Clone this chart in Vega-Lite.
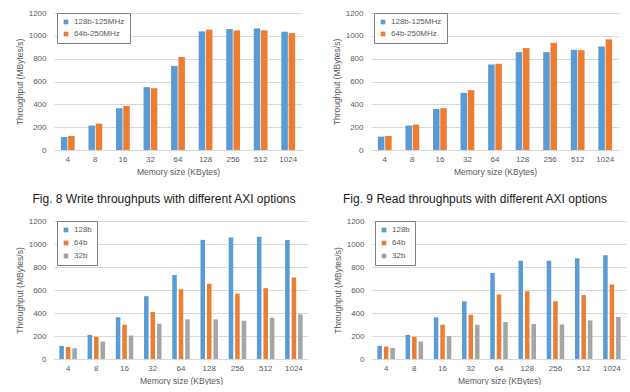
{
  "$schema": "https://vega.github.io/schema/vega-lite/v6.json",
  "background": "white",
  "padding": {"left": 15, "top": 9, "right": 5, "bottom": 0},
  "datasets": {
    "w2": [
      {"size": "4", "series": "128b-125MHz", "value": 114}, {"size": "4", "series": "64b-250MHz", "value": 123},
      {"size": "8", "series": "128b-125MHz", "value": 214}, {"size": "8", "series": "64b-250MHz", "value": 231},
      {"size": "16", "series": "128b-125MHz", "value": 366}, {"size": "16", "series": "64b-250MHz", "value": 386},
      {"size": "32", "series": "128b-125MHz", "value": 550}, {"size": "32", "series": "64b-250MHz", "value": 541},
      {"size": "64", "series": "128b-125MHz", "value": 737}, {"size": "64", "series": "64b-250MHz", "value": 814},
      {"size": "128", "series": "128b-125MHz", "value": 1039}, {"size": "128", "series": "64b-250MHz", "value": 1054},
      {"size": "256", "series": "128b-125MHz", "value": 1059}, {"size": "256", "series": "64b-250MHz", "value": 1048},
      {"size": "512", "series": "128b-125MHz", "value": 1065}, {"size": "512", "series": "64b-250MHz", "value": 1048},
      {"size": "1024", "series": "128b-125MHz", "value": 1036}, {"size": "1024", "series": "64b-250MHz", "value": 1024}
    ],
    "r2": [
      {"size": "4", "series": "128b-125MHz", "value": 117}, {"size": "4", "series": "64b-250MHz", "value": 123},
      {"size": "8", "series": "128b-125MHz", "value": 214}, {"size": "8", "series": "64b-250MHz", "value": 222},
      {"size": "16", "series": "128b-125MHz", "value": 360}, {"size": "16", "series": "64b-250MHz", "value": 366},
      {"size": "32", "series": "128b-125MHz", "value": 500}, {"size": "32", "series": "64b-250MHz", "value": 524},
      {"size": "64", "series": "128b-125MHz", "value": 749}, {"size": "64", "series": "64b-250MHz", "value": 755},
      {"size": "128", "series": "128b-125MHz", "value": 857}, {"size": "128", "series": "64b-250MHz", "value": 893},
      {"size": "256", "series": "128b-125MHz", "value": 857}, {"size": "256", "series": "64b-250MHz", "value": 939},
      {"size": "512", "series": "128b-125MHz", "value": 878}, {"size": "512", "series": "64b-250MHz", "value": 875},
      {"size": "1024", "series": "128b-125MHz", "value": 907}, {"size": "1024", "series": "64b-250MHz", "value": 969}
    ],
    "w3": [
      {"size": "4", "series": "128b", "value": 114}, {"size": "4", "series": "64b", "value": 105}, {"size": "4", "series": "32b", "value": 93},
      {"size": "8", "series": "128b", "value": 210}, {"size": "8", "series": "64b", "value": 193}, {"size": "8", "series": "32b", "value": 152},
      {"size": "16", "series": "128b", "value": 362}, {"size": "16", "series": "64b", "value": 298}, {"size": "16", "series": "32b", "value": 204},
      {"size": "32", "series": "128b", "value": 546}, {"size": "32", "series": "64b", "value": 409}, {"size": "32", "series": "32b", "value": 307},
      {"size": "64", "series": "128b", "value": 730}, {"size": "64", "series": "64b", "value": 607}, {"size": "64", "series": "32b", "value": 345},
      {"size": "128", "series": "128b", "value": 1036}, {"size": "128", "series": "64b", "value": 654}, {"size": "128", "series": "32b", "value": 345},
      {"size": "256", "series": "128b", "value": 1057}, {"size": "256", "series": "64b", "value": 569}, {"size": "256", "series": "32b", "value": 333},
      {"size": "512", "series": "128b", "value": 1063}, {"size": "512", "series": "64b", "value": 616}, {"size": "512", "series": "32b", "value": 359},
      {"size": "1024", "series": "128b", "value": 1034}, {"size": "1024", "series": "64b", "value": 709}, {"size": "1024", "series": "32b", "value": 388}
    ],
    "r3": [
      {"size": "4", "series": "128b", "value": 114}, {"size": "4", "series": "64b", "value": 108}, {"size": "4", "series": "32b", "value": 96},
      {"size": "8", "series": "128b", "value": 210}, {"size": "8", "series": "64b", "value": 193}, {"size": "8", "series": "32b", "value": 152},
      {"size": "16", "series": "128b", "value": 362}, {"size": "16", "series": "64b", "value": 298}, {"size": "16", "series": "32b", "value": 199},
      {"size": "32", "series": "128b", "value": 502}, {"size": "32", "series": "64b", "value": 385}, {"size": "32", "series": "32b", "value": 298},
      {"size": "64", "series": "128b", "value": 747}, {"size": "64", "series": "64b", "value": 561}, {"size": "64", "series": "32b", "value": 321},
      {"size": "128", "series": "128b", "value": 855}, {"size": "128", "series": "64b", "value": 590}, {"size": "128", "series": "32b", "value": 304},
      {"size": "256", "series": "128b", "value": 855}, {"size": "256", "series": "64b", "value": 502}, {"size": "256", "series": "32b", "value": 301},
      {"size": "512", "series": "128b", "value": 876}, {"size": "512", "series": "64b", "value": 555}, {"size": "512", "series": "32b", "value": 336},
      {"size": "1024", "series": "128b", "value": 902}, {"size": "1024", "series": "64b", "value": 648}, {"size": "1024", "series": "32b", "value": 365}
    ]
  },
  "config": {
    "font": "Liberation Sans",
    "view": {"stroke": null},
    "axis": {
      "labelFont": "Liberation Sans", "labelFontSize": 8, "labelColor": "#595959",
      "titleFont": "Liberation Sans", "titleFontSize": 8.5, "titleColor": "#595959", "titleFontWeight": "normal",
      "gridColor": "#D9D9D9", "domainColor": "#D9D9D9", "ticks": false, "tickSize": 0
    },
    "legend": {
      "orient": "none", "legendX": 3, "legendY": 0, "title": null,
      "symbolType": "square", "symbolSize": 22, "symbolStrokeWidth": 0,
      "labelFont": "Liberation Sans", "labelFontSize": 8, "labelColor": "#595959",
      "padding": 5, "strokeColor": "#808080", "fillColor": "white", "rowPadding": 4
    },
    "title": {"font": "Liberation Sans", "fontSize": 12, "fontWeight": "normal", "color": "#1a1a1a", "orient": "bottom", "offset": 18, "anchor": "middle", "frame": "group"}
  },
  "spacing": 12,
  "resolve": {"scale": {"x": "independent", "y": "independent", "color": "independent", "xOffset": "independent"}, "legend": {"color": "independent"}, "axis": {"x": "independent", "y": "independent"}},
  "vconcat": [
    {
      "spacing": 30,
      "resolve": {"scale": {"x": "independent", "y": "independent", "color": "independent", "xOffset": "independent"}, "legend": {"color": "independent"}},
      "hconcat": [
        {
          "width": 248, "height": 137,
          "data": {"name": "w2"},
          "title": {"text": "Fig. 8 Write throughputs with different AXI options", "dx": -14},
          "mark": {"type": "bar"},
          "encoding": {
            "x": {"field": "size", "type": "nominal", "sort": ["4","8","16","32","64","128","256","512","1024"], "scale": {"paddingInner": 0.5, "paddingOuter": 0.25}, "axis": {"title": "Memory size (KBytes)", "labelAngle": 0, "labelPadding": 5, "titlePadding": 4}},
            "xOffset": {"field": "series", "sort": ["128b-125MHz", "64b-250MHz"], "scale": {"paddingInner": 0.1}},
            "y": {"field": "value", "type": "quantitative", "scale": {"domain": [0, 1200], "nice": false}, "axis": {"values": [0,200,400,600,800,1000,1200], "format": "d", "title": "Throughput (MBytes/s)", "domain": false, "labelPadding": 8, "titlePadding": 4}},
            "color": {"field": "series", "type": "nominal", "scale": {"domain": ["128b-125MHz", "64b-250MHz"], "range": ["#5B9BD5", "#ED7D31"]}}
          }
        },
        {
          "width": 248, "height": 137,
          "data": {"name": "r2"},
          "title": {"text": "Fig. 9 Read throughputs with different AXI options", "dx": -20},
          "mark": {"type": "bar"},
          "encoding": {
            "x": {"field": "size", "type": "nominal", "sort": ["4","8","16","32","64","128","256","512","1024"], "scale": {"paddingInner": 0.5, "paddingOuter": 0.25}, "axis": {"title": "Memory size (KBytes)", "labelAngle": 0, "labelPadding": 5, "titlePadding": 4}},
            "xOffset": {"field": "series", "sort": ["128b-125MHz", "64b-250MHz"], "scale": {"paddingInner": 0.1}},
            "y": {"field": "value", "type": "quantitative", "scale": {"domain": [0, 1200], "nice": false}, "axis": {"values": [0,200,400,600,800,1000,1200], "format": "d", "title": "Throughput (MBytes/s)", "domain": false, "labelPadding": 8, "titlePadding": 4}},
            "color": {"field": "series", "type": "nominal", "scale": {"domain": ["128b-125MHz", "64b-250MHz"], "range": ["#5B9BD5", "#ED7D31"]}}
          }
        }
      ]
    },
    {
      "spacing": 25,
      "resolve": {"scale": {"x": "independent", "y": "independent", "color": "independent", "xOffset": "independent"}, "legend": {"color": "independent"}},
      "hconcat": [
        {
          "width": 254, "height": 138,
          "data": {"name": "w3"},
          "mark": {"type": "bar"},
          "encoding": {
            "x": {"field": "size", "type": "nominal", "sort": ["4","8","16","32","64","128","256","512","1024"], "scale": {"paddingInner": 0.38, "paddingOuter": 0.19}, "axis": {"title": "Memory size (KBytes)", "labelAngle": 0, "labelPadding": 5, "titlePadding": 4}},
            "xOffset": {"field": "series", "sort": ["128b", "64b", "32b"], "scale": {"paddingInner": 0.3}},
            "y": {"field": "value", "type": "quantitative", "scale": {"domain": [0, 1200], "nice": false}, "axis": {"values": [0,200,400,600,800,1000,1200], "format": "d", "title": "Throughput (MBytes/s)", "domain": false, "labelPadding": 8, "titlePadding": 4}},
            "color": {"field": "series", "type": "nominal", "scale": {"domain": ["128b", "64b", "32b"], "range": ["#5B9BD5", "#ED7D31", "#A5A5A5"]}, "legend": {"rowPadding": 5}}
          }
        },
        {
          "width": 254, "height": 138,
          "data": {"name": "r3"},
          "mark": {"type": "bar"},
          "encoding": {
            "x": {"field": "size", "type": "nominal", "sort": ["4","8","16","32","64","128","256","512","1024"], "scale": {"paddingInner": 0.38, "paddingOuter": 0.19}, "axis": {"title": "Memory size (KBytes)", "labelAngle": 0, "labelPadding": 5, "titlePadding": 4}},
            "xOffset": {"field": "series", "sort": ["128b", "64b", "32b"], "scale": {"paddingInner": 0.3}},
            "y": {"field": "value", "type": "quantitative", "scale": {"domain": [0, 1200], "nice": false}, "axis": {"values": [0,200,400,600,800,1000,1200], "format": "d", "title": "Throughput (MBytes/s)", "domain": false, "labelPadding": 8, "titlePadding": 4}},
            "color": {"field": "series", "type": "nominal", "scale": {"domain": ["128b", "64b", "32b"], "range": ["#5B9BD5", "#ED7D31", "#A5A5A5"]}, "legend": {"rowPadding": 5}}
          }
        }
      ]
    }
  ]
}
